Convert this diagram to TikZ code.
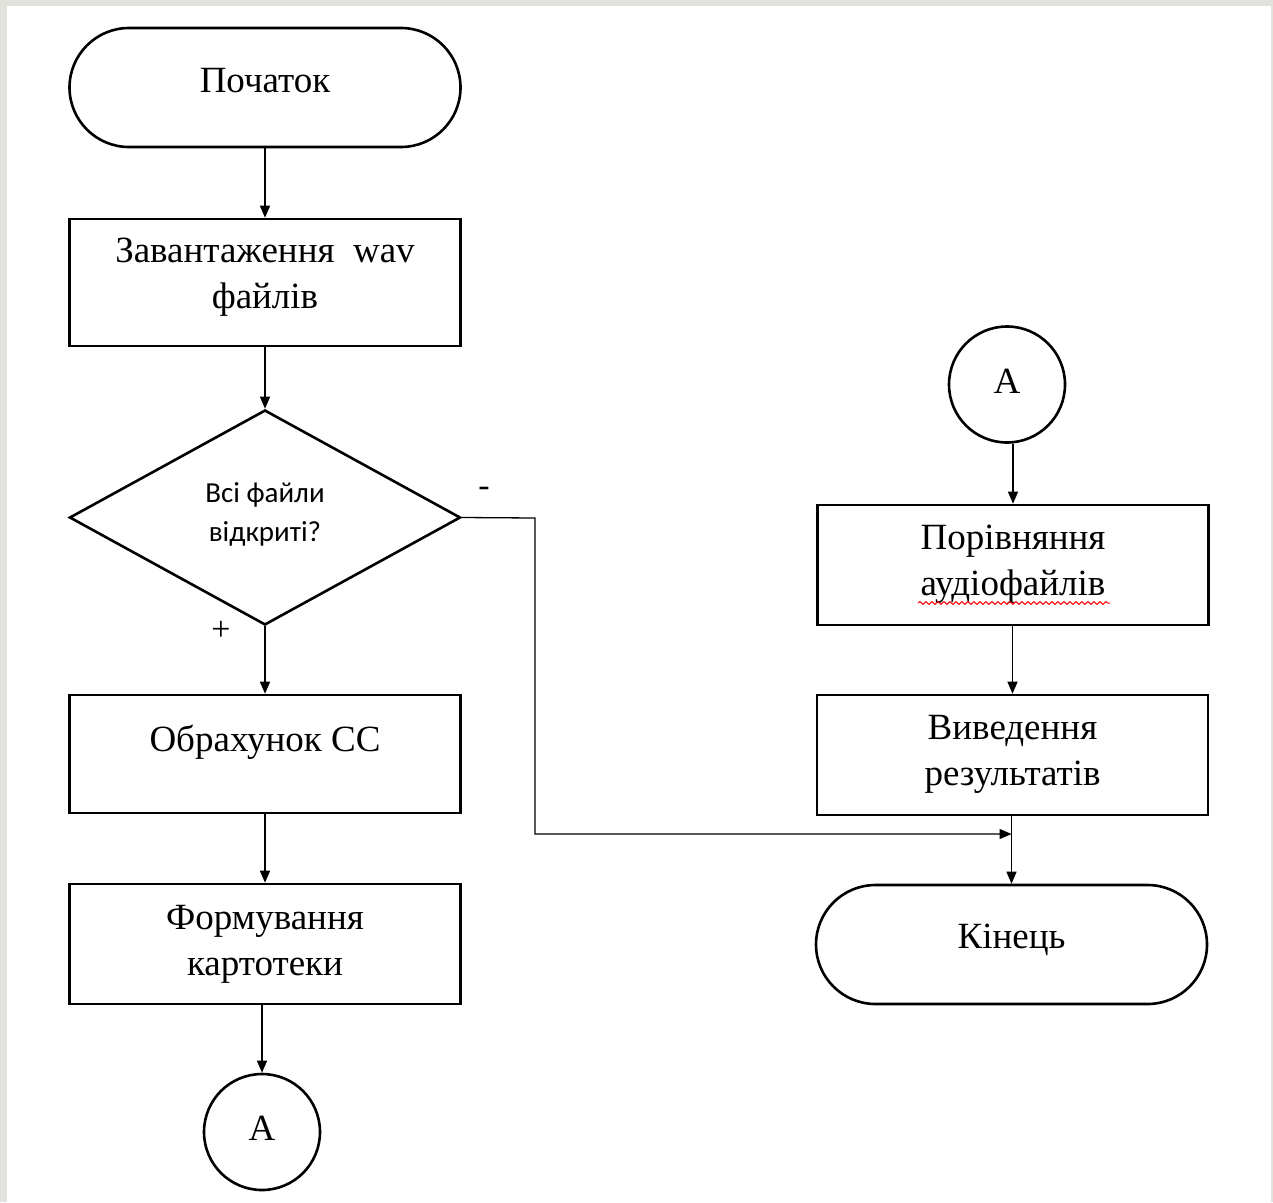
\documentclass[tikz,border=0pt]{standalone}
\usepackage{fontspec}
\setmainfont{Liberation Serif}
\newfontfamily\calfont{Carlito}
\usetikzlibrary{arrows.meta,shapes.geometric,shapes.misc,decorations.pathmorphing,calc}
\definecolor{bgframe}{HTML}{E2E2DD}
\begin{document}
\begin{tikzpicture}[x=1pt,y=-1pt,
  box/.style={draw,line width=2.6pt,rectangle,minimum width=391pt,minimum height=#1,inner sep=0pt},
  term/.style={draw,line width=2.6pt,rounded rectangle,minimum width=391pt,minimum height=119pt,inner sep=0pt},
  conn/.style={draw,line width=1.3pt},
  arr/.style={conn,-{Triangle[length=12pt,width=10pt]}},
  txt/.style={align=center,font=\fontsize{37}{46}\selectfont,inner sep=0pt},
  circ/.style={draw,line width=2.6pt,circle,minimum size=116pt,inner sep=0pt},
  lbl/.style={font=\fontsize{34}{40}\selectfont,inner sep=0pt}
]
\useasboundingbox (0,0) rectangle (1273,1202);
\fill[bgframe] (0,0) rectangle (1273,1202);
\fill[white] (7,6) rectangle (1271,1202);

% left column
\node[term] (start) at (265,87.5) {};
\node[txt] (tstart) at (265,81) {Початок};
\node[box=127pt] (b1) at (265,282.5) {};
\node[txt] (tb1) at (265,277) {Завантаження\ \ wav\\файлів};
\node[draw,line width=2.6pt,diamond,minimum width=391pt,minimum height=215pt,inner sep=0pt] (dia) at (265,517.5) {};
\node[align=center,font=\calfont\fontsize{29}{39}\selectfont,inner sep=0pt] (tdia) at (265,514) {Всі файли\\відкриті?};
\node[lbl] (minus) at (484,492) {-};
\node[lbl] (plus) at (221,631) {+};
\node[box=118pt] (b2) at (265,754) {};
\node[txt] (tb2) at (265,742) {Обрахунок СС};
\node[box=120pt] (b3) at (265,944) {};
\node[txt] (tb3) at (265,944) {Формування\\картотеки};
\node[circ] (a1) at (262,1132) {};
\node[txt] (ta1) at (262,1128) {A};

% right column
\node[circ] (a2) at (1007,384.5) {};
\node[txt] (ta2) at (1007,381) {A};
\node[box=120pt] (b4) at (1013,565) {};
\node[txt] (tb4) at (1013,564) {Порівняння\\аудіофайлів};
\node[box=120pt] (b5) at (1012.5,755) {};
\node[txt] (tb5) at (1012.5,754) {Виведення\\результатів};
\node[term] (end) at (1011.5,944.5) {};
\node[txt] (tend) at (1011.5,940) {Кінець};

\draw[red,line width=1pt,decorate,decoration={snake,amplitude=1.4pt,segment length=6pt}] (918,603) -- (1110,603);

% connectors
\draw[arr] (start.south) -- (b1.north);
\draw[arr] (b1.south) -- (dia.north);
\draw[arr] (dia.south) -- (b2.north);
\draw[arr] (b2.south) -- (b3.north);
\draw[arr] (b3.south -| a1.north) -- (a1.north);
\draw[arr] (a2.south -| b4.north) -- (b4.north);
\draw[arr] (b4.south -| b5.north) -- (b5.north);
\draw[arr] (b5.south -| end.north) -- (end.north);
\coordinate (turn) at (535,518);
\coordinate (join) at (end.north |- 0,834);
\draw[arr] (dia.east) -- (turn) |- (join);
\end{tikzpicture}
\end{document}
